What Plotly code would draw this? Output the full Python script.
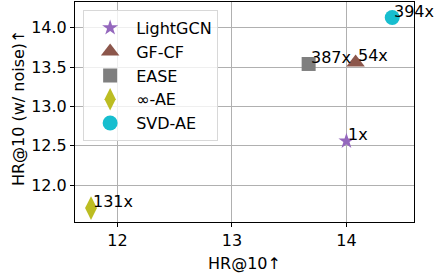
import plotly.graph_objects as go

methods = ["LightGCN", "GF-CF", "EASE", "∞-AE", "SVD-AE"]
hr_clean = [14.00, 14.08, 13.67, 11.77, 14.40]
hr_noise = [12.56, 13.56, 13.54, 11.71, 14.13]
speedup = ["1x", "54x", "387x", "131x", "394x"]
symbols = ["star", "triangle-up", "square", "diamond-tall", "circle"]
colors = ["#9467bd", "#8c564b", "#7f7f7f", "#bcbd22", "#17becf"]
sizes = [12, 16, 14, 17, 15]

fig = go.Figure()
for m, x, y, s, c, sz in zip(methods, hr_clean, hr_noise, symbols, colors, sizes):
    fig.add_trace(go.Scatter(x=[x], y=[y], mode="markers", name=m,
                             marker=dict(symbol=s, color=c, size=sz, line=dict(width=0))))
for x, y, t in zip(hr_clean, hr_noise, speedup):
    fig.add_annotation(x=x, y=y, text=t, showarrow=False, xanchor="left", yanchor="bottom",
                       xshift=0, yshift=-5, font=dict(size=16, color="black"))

# axis titles
fig.add_annotation(xref="paper", yref="paper", x=0.5, y=0, yshift=-30, xanchor="center", yanchor="top",
                   text="HR@10↑", showarrow=False, font=dict(size=16, color="black"))
fig.add_annotation(xref="paper", yref="paper", x=0, y=0.52, xshift=-68, xanchor="left", yanchor="middle",
                   text="HR@10 (w/ noise)↑", textangle=-90, showarrow=False, font=dict(size=16, color="black"))

axis_common = dict(showgrid=True, gridcolor="#b0b0b0", gridwidth=1, showline=True, linecolor="black",
                   linewidth=1, mirror=True, ticks="outside", ticklen=4, tickcolor="black",
                   zeroline=False, automargin=False, tickfont=dict(size=16, color="black"))
fig.update_xaxes(range=[11.63, 14.59], tickvals=[12, 13, 14], ticktext=["12", "13", "14"], **axis_common)
fig.update_yaxes(range=[11.533, 14.327], tickvals=[12.0, 12.5, 13.0, 13.5, 14.0],
                 ticktext=["12.0", "12.5", "13.0", "13.5", "14.0"], **axis_common)
fig.update_layout(width=435, height=274, margin=dict(l=75, r=21, t=2, b=52, autoexpand=False),
                  plot_bgcolor="white", paper_bgcolor="white",
                  font=dict(family="DejaVu Sans", size=16, color="black"),
                  legend=dict(x=0.024, y=0.964, xanchor="left", yanchor="top",
                              bgcolor="rgba(255,255,255,0.8)", bordercolor="#d8d8d8", borderwidth=1,
                              font=dict(size=16), itemwidth=42, tracegroupgap=0))
fig.write_html("out.html", config={"displayModeBar": False},
               post_script="document.body.style.margin='0';")
